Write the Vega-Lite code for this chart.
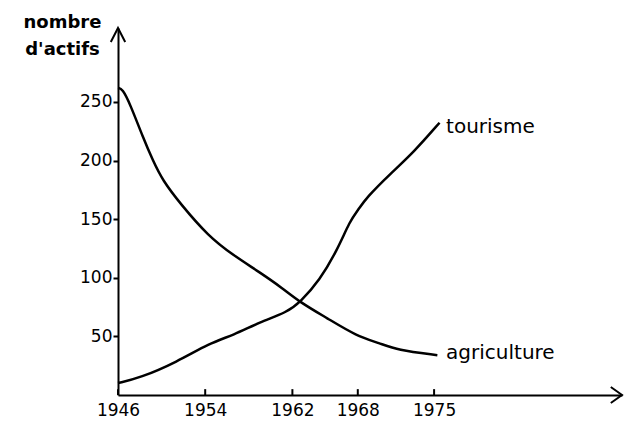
{
  "$schema": "https://vega.github.io/schema/vega-lite/v6.json",
  "width": 504,
  "height": 367,
  "autosize": {"type": "none"},
  "padding": {"left": 118, "top": 28, "right": 7, "bottom": 26},
  "background": "white",
  "config": {"view": {"stroke": null}, "font": "DejaVu Sans"},
  "datasets": {
    "series": [
      {"series": "agriculture", "year": 1946, "value": 262},
      {"series": "agriculture", "year": 1946.4, "value": 261.3},
      {"series": "agriculture", "year": 1947.1, "value": 248.5},
      {"series": "agriculture", "year": 1948.3, "value": 219.6},
      {"series": "agriculture", "year": 1949.2, "value": 200},
      {"series": "agriculture", "year": 1950.1, "value": 183},
      {"series": "agriculture", "year": 1951.7, "value": 163.4},
      {"series": "agriculture", "year": 1954.3, "value": 135.3},
      {"series": "agriculture", "year": 1956.6, "value": 119.1},
      {"series": "agriculture", "year": 1959.0, "value": 104.7},
      {"series": "agriculture", "year": 1961.1, "value": 91.1},
      {"series": "agriculture", "year": 1962.7, "value": 79.1},
      {"series": "agriculture", "year": 1965.2, "value": 65.5},
      {"series": "agriculture", "year": 1967.9, "value": 50.2},
      {"series": "agriculture", "year": 1970.0, "value": 44.3},
      {"series": "agriculture", "year": 1971.6, "value": 38.3},
      {"series": "agriculture", "year": 1975.3, "value": 34.0},
      {"series": "tourisme", "year": 1946, "value": 10.2},
      {"series": "tourisme", "year": 1948.0, "value": 14.5},
      {"series": "tourisme", "year": 1951.4, "value": 28.1},
      {"series": "tourisme", "year": 1954.4, "value": 44.3},
      {"series": "tourisme", "year": 1956.6, "value": 51.1},
      {"series": "tourisme", "year": 1959.0, "value": 62.1},
      {"series": "tourisme", "year": 1961.5, "value": 70.6},
      {"series": "tourisme", "year": 1962.7, "value": 79.1},
      {"series": "tourisme", "year": 1964.5, "value": 97.9},
      {"series": "tourisme", "year": 1966.1, "value": 123.4},
      {"series": "tourisme", "year": 1967.3, "value": 148.9},
      {"series": "tourisme", "year": 1968.0, "value": 157.4},
      {"series": "tourisme", "year": 1968.8, "value": 168.5},
      {"series": "tourisme", "year": 1971.0, "value": 188.9},
      {"series": "tourisme", "year": 1973.1, "value": 206.8},
      {"series": "tourisme", "year": 1975.5, "value": 232.3}
    ],
    "labels": [
      {"label": "tourisme", "year": 1976.1, "value": 228.7},
      {"label": "agriculture", "year": 1976.1, "value": 35.8}
    ],
    "ticks": [
      {"year": 1946}, {"year": 1954}, {"year": 1962}, {"year": 1968}, {"year": 1975}
    ],
    "arrows": [
      {"axis": "y", "year": 1946, "value": 313.1},
      {"axis": "x", "year": 1992.24, "value": 0}
    ]
  },
  "layer": [
    {
      "data": {"name": "series"},
      "mark": {"type": "line", "interpolate": "basis", "color": "black", "strokeWidth": 2.5},
      "encoding": {
        "x": {
          "field": "year", "type": "quantitative",
          "scale": {"domain": [1946, 1992.24], "nice": false, "zero": false},
          "axis": {
            "title": null, "values": [1946, 1954, 1962, 1968, 1975], "format": "d",
            "grid": false, "domainColor": "black", "domainWidth": 2,
            "ticks": false, "labelFlush": false,
            "labelFontSize": 17, "labelColor": "black", "labelPadding": 7,
            "labelFont": "DejaVu Sans"
          }
        },
        "y": {
          "field": "value", "type": "quantitative",
          "scale": {"domain": [0, 313.1], "nice": false},
          "axis": {
            "title": ["nombre", "d'actifs"], "titleAngle": 0, "titleX": -56, "titleY": -15,
            "titleAlign": "center", "titleBaseline": "top", "titleFontSize": 18,
            "titleFontWeight": "bold", "titleLineHeight": 27, "titleColor": "black",
            "titleFont": "DejaVu Sans",
            "values": [50, 100, 150, 200, 250],
            "grid": false, "domainColor": "black", "domainWidth": 2,
            "tickColor": "black", "tickWidth": 2, "tickSize": 5,
            "labelFontSize": 17, "labelColor": "black", "labelPadding": 1,
            "labelFont": "DejaVu Sans"
          }
        },
        "detail": {"field": "series"}
      }
    },
    {
      "data": {"name": "ticks"},
      "mark": {"type": "rule", "color": "black", "strokeWidth": 2},
      "encoding": {
        "x": {"field": "year", "type": "quantitative"},
        "y": {"datum": 0},
        "y2": {"datum": 5}
      }
    },
    {
      "data": {"name": "labels"},
      "mark": {"type": "text", "align": "left", "baseline": "middle", "fontSize": 20, "color": "black", "font": "DejaVu Sans"},
      "encoding": {
        "x": {"field": "year", "type": "quantitative"},
        "y": {"field": "value", "type": "quantitative"},
        "text": {"field": "label"}
      }
    },
    {
      "data": {"name": "arrows"},
      "mark": {"type": "point", "filled": false, "stroke": "black", "strokeWidth": 2, "size": 256, "opacity": 1},
      "encoding": {
        "x": {"field": "year", "type": "quantitative"},
        "y": {"field": "value", "type": "quantitative"},
        "shape": {
          "field": "axis", "type": "nominal",
          "scale": {"domain": ["y", "x"], "range": ["M-0.9,1.75L0,0L0.9,1.75", "M-1.4,-1L0,0L-1.4,1"]},
          "legend": null
        }
      }
    }
  ]
}
